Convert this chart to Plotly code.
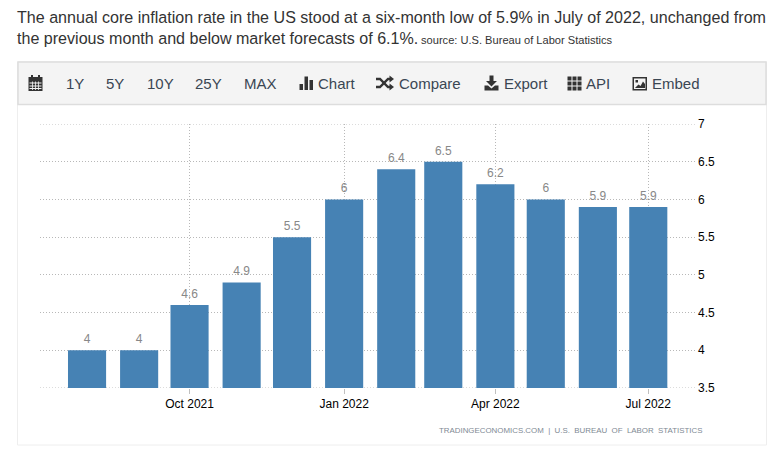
# plot.py
import plotly.graph_objects as go

W, H = 781, 461

months = ["2021-08-01", "2021-09-01", "2021-10-01", "2021-11-01", "2021-12-01", "2022-01-01",
          "2022-02-01", "2022-03-01", "2022-04-01", "2022-05-01", "2022-06-01", "2022-07-01"]
core_rate = [4, 4, 4.6, 4.9, 5.5, 6, 6.4, 6.5, 6.2, 6, 5.9, 5.9]
bar_labels = ["4", "4", "4.6", "4.9", "5.5", "6", "6.4", "6.5", "6.2", "6", "5.9", "5.9"]
y_min, y_max = 3.5, 7

line_one = "The annual core inflation rate in the US stood at a six-month low of 5.9% in July of 2022, unchanged from"
line_two = "the previous month and below market forecasts of 6.1%."
source = "source: U.S. Bureau of Labor Statistics"
footer = "TRADINGECONOMICS.COM\u00a0 |\u00a0 U.S.\u00a0 BUREAU\u00a0 OF\u00a0 LABOR\u00a0 STATISTICS"

# label, left edge in pixels
toolbar_items = [("1Y", 66), ("5Y", 106), ("10Y", 147), ("25Y", 195), ("MAX", 244),
                 ("Chart", 318), ("Compare", 399), ("Export", 504), ("API", 586), ("Embed", 652)]

FONT = "Liberation Sans"
BAR = "#4682b4"
ICON = "#333333"
GRID = "#b8b8b8"


# Pixel helpers, everything outside the plot area is placed in paper coords
def px(x):
    return x / W


def py(y):
    return 1 - y / H


def label(x, y, text, size, color="#333333", anchor="left"):
    return dict(xref="paper", yref="paper", x=px(x), y=py(y), text=text, showarrow=False,
                xanchor=anchor, yanchor="middle", align=anchor, borderpad=0,
                font=dict(family=FONT, size=size, color=color))


def rect(x0, y0, x1, y1, fill=ICON, line=None, width=1):
    return dict(type="rect", xref="paper", yref="paper", x0=px(x0), y0=py(y0), x1=px(x1), y1=py(y1),
                fillcolor=fill, line=dict(color=line or "rgba(0,0,0,0)", width=width if line else 0))


def poly(points, fill=ICON, line=None, width=1, close=True):
    path = "M" + " L".join(f"{px(x):.5f},{py(y):.5f}" for x, y in points) + (" Z" if close else "")
    return dict(type="path", xref="paper", yref="paper", path=path,
                fillcolor=fill if close else "rgba(0,0,0,0)",
                line=dict(color=line or "rgba(0,0,0,0)", width=width if line else 0))


shapes = [
    rect(17.5, 62, 766.5, 445, fill="white", line="#eeeeee", width=1),
    rect(18, 62, 766, 104.5, fill="#f4f4f4", line="#dddddd", width=1.5),
]

# plotly drops the grid lines that sit right on the range ends, so add those two
for level in (y_min, y_max):
    shapes.append(dict(type="line", xref="paper", yref="y", x0=px(40), x1=px(697), y0=level, y1=level,
                       line=dict(color=GRID, width=1, dash="1px,2px")))

# calendar icon
shapes.append(rect(28.5, 77, 42.5, 91))
shapes += [rect(31, 75, 33, 78), rect(38, 75, 40, 78)]
for yy in (82.5, 85.5, 88):
    shapes.append(rect(29.5, yy, 41.5, yy + 1, fill="#f4f4f4"))
for xx in (32, 35, 38):
    shapes.append(rect(xx, 81.5, xx + 0.8, 90, fill="#f4f4f4"))

# chart icon
shapes += [rect(299.5, 84, 303, 90), rect(304.5, 76.5, 308, 90), rect(309.5, 80, 313, 90)]

# shuffle icon
shapes += [
    poly([(376, 79), (380, 79), (388, 87), (391, 87)], line=ICON, width=2.4, close=False),
    poly([(376, 87), (380, 87), (388, 79), (391, 79)], line=ICON, width=2.4, close=False),
    poly([(389.5, 75.5), (394, 79), (389.5, 82.5)]),
    poly([(389.5, 83.5), (394, 87), (389.5, 90.5)]),
]

# export icon
shapes += [
    poly([(489.5, 75.5), (493.5, 75.5), (493.5, 81), (497, 81), (491.5, 86.5), (486, 81), (489.5, 81)]),
    poly([(484.5, 85.5), (488, 85.5), (491.5, 88.5), (495, 85.5), (498.5, 85.5), (498.5, 90.5), (484.5, 90.5)]),
]

# api grid icon
for xx in (567.5, 572.5, 577.5):
    for yy in (76.5, 81.5, 86.5):
        shapes.append(rect(xx, yy, xx + 4, yy + 4))

# embed icon
shapes += [
    rect(632.5, 77, 647, 90.5),
    rect(634, 78.5, 645.5, 89, fill="#f4f4f4"),
    rect(635.5, 80, 638, 82.5),
    poly([(635, 88), (638.5, 84.5), (640.5, 86), (643, 81.5), (645, 84), (645, 88)]),
]

annotations = [
    label(16, 17, line_one, 16.08),
    label(16, 38, line_two, 16.08),
    label(420, 40, source, 11.1),
    label(704, 430, footer, 7.9, color="#808a94", anchor="right"),
]
for text, left in toolbar_items:
    annotations.append(label(left - 1, 84, text, 15, color="#3a4653"))

fig = go.Figure()
fig.add_trace(
    go.Bar(
        x=months,
        y=core_rate,
        marker=dict(color=BAR, line=dict(width=0)),
        hoverinfo="x+y",
    )
)
# value labels sit a little higher than the bars' own outside text would
fig.add_trace(
    go.Scatter(
        x=months,
        y=core_rate,
        mode="markers+text",
        text=bar_labels,
        textposition="top center",
        marker=dict(size=5, color="rgba(0,0,0,0)"),
        textfont=dict(family=FONT, size=12, color="#888888"),
        cliponaxis=False,
        hoverinfo="skip",
    )
)

fig.update_layout(
    width=W,
    height=H,
    margin=dict(l=0, r=0, t=0, b=0, autoexpand=False),
    autosize=False,
    paper_bgcolor="white",
    plot_bgcolor="rgba(0,0,0,0)",
    showlegend=False,
    bargap=0.19,
    shapes=shapes,
    annotations=annotations,
    font=dict(family=FONT, size=12, color="black"),
)
for s in fig.layout.shapes:
    s.layer = "below"

fig.update_xaxes(
    domain=[px(40), px(697)],
    range=["2021-07-04", "2022-07-30"],
    type="date",
    tick0="2021-10-01",
    dtick="M3",
    tickformat="%b %Y",
    ticks="outside",
    ticklen=5,
    tickcolor="#c0c0c0",
    showline=False,
    showgrid=True,
    gridcolor=GRID,
    griddash="1px,2px",
    gridwidth=1,
    zeroline=False,
    tickfont=dict(family=FONT, size=12, color="black"),
)
fig.update_yaxes(
    domain=[py(388), py(124)],
    range=[y_min, y_max],
    dtick=0.5,
    side="right",
    ticks="",
    showline=False,
    showgrid=True,
    gridcolor=GRID,
    griddash="1px,2px",
    gridwidth=1,
    zeroline=False,
    tickfont=dict(family=FONT, size=12, color="black"),
)

fig.write_html(
    "out.html",
    config={"displayModeBar": False},
    post_script="document.body.style.margin='0';document.body.style.overflow='hidden';",
)
